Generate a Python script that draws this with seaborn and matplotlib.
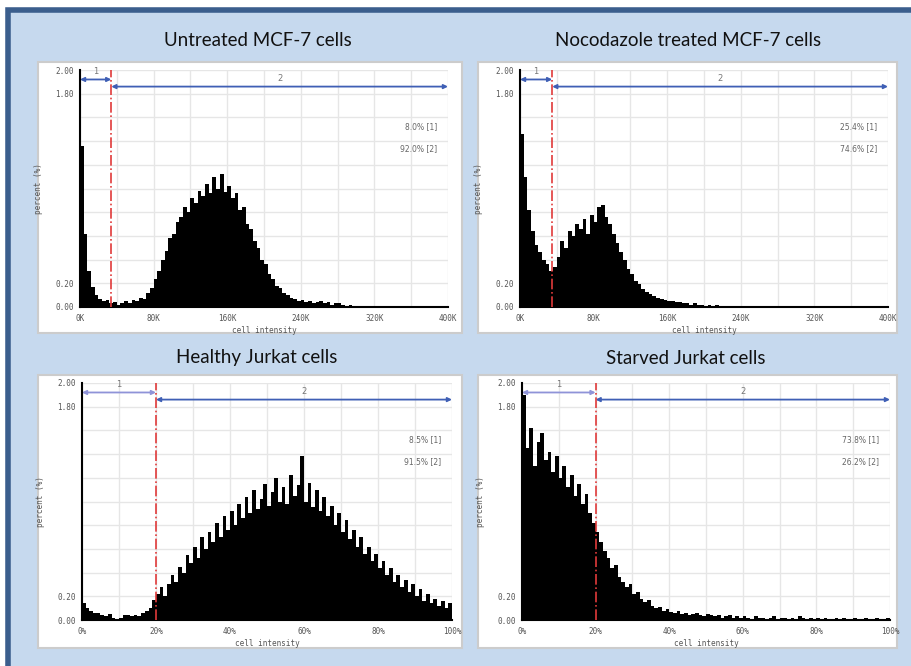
import numpy as np
import pandas as pd
import seaborn as sns
import matplotlib.pyplot as plt
from matplotlib.patches import Rectangle

# bin heights (percent of cells)
# MCF-7: 4K wide bins from 0K to 400K
mcf7_untreated = [1.36, 0.62, 0.30, 0.17, 0.10, 0.07, 0.05, 0.06, 0.03, 0.04,
                  0.02, 0.03, 0.05, 0.03, 0.06, 0.05, 0.08, 0.07, 0.12, 0.16,
                  0.24, 0.30, 0.40, 0.47, 0.58, 0.62, 0.72, 0.76, 0.84, 0.80,
                  0.92, 0.88, 0.98, 0.94, 1.04, 0.96, 1.10, 1.00, 1.12, 0.97,
                  1.02, 0.92, 0.96, 0.82, 0.84, 0.70, 0.66, 0.56, 0.50, 0.40,
                  0.36, 0.28, 0.24, 0.18, 0.16, 0.12, 0.10, 0.08, 0.07, 0.05,
                  0.06, 0.04, 0.05, 0.03, 0.04, 0.05, 0.03, 0.04, 0.02, 0.03,
                  0.03, 0.02, 0.01, 0.02, 0.00, 0.00, 0.01, 0.00, 0.00, 0.00,
                  0.00, 0.01, 0.00, 0.00, 0.00, 0.00, 0.00, 0.00, 0.00, 0.00,
                  0.01, 0.00, 0.00, 0.00, 0.00, 0.00, 0.00, 0.00, 0.00, 0.01]
mcf7_nocodazole = [1.46, 1.10, 0.82, 0.64, 0.52, 0.46, 0.40, 0.36, 0.30, 0.34,
                   0.42, 0.56, 0.50, 0.64, 0.60, 0.70, 0.66, 0.74, 0.62, 0.78,
                   0.72, 0.84, 0.86, 0.76, 0.70, 0.62, 0.54, 0.46, 0.40, 0.32,
                   0.28, 0.22, 0.19, 0.15, 0.13, 0.11, 0.09, 0.08, 0.07, 0.06,
                   0.05, 0.05, 0.04, 0.04, 0.03, 0.03, 0.02, 0.03, 0.02, 0.02,
                   0.01, 0.02, 0.01, 0.02, 0.01, 0.00, 0.01, 0.00, 0.01, 0.00,
                   0.01, 0.00, 0.00, 0.00, 0.00, 0.01, 0.00, 0.00, 0.00, 0.00,
                   0.01, 0.00, 0.01, 0.00, 0.00, 0.01, 0.00, 0.00, 0.01, 0.00,
                   0.00, 0.00, 0.00, 0.00, 0.00, 0.00, 0.00, 0.00, 0.00, 0.00,
                   0.00, 0.00, 0.00, 0.00, 0.00, 0.00, 0.00, 0.00, 0.00, 0.00]
# Jurkat: 1% wide bins from 0% to 100%
jurkat_healthy = [0.14, 0.10, 0.08, 0.06, 0.06, 0.04, 0.03, 0.05, 0.02, 0.01,
                  0.02, 0.04, 0.04, 0.03, 0.04, 0.03, 0.06, 0.08, 0.10, 0.17,
                  0.22, 0.28, 0.20, 0.30, 0.38, 0.32, 0.45, 0.40, 0.55, 0.48,
                  0.62, 0.52, 0.70, 0.60, 0.74, 0.66, 0.82, 0.70, 0.88, 0.76,
                  0.92, 0.80, 0.98, 0.86, 1.04, 0.90, 1.10, 0.94, 1.02, 1.15,
                  0.96, 1.08, 1.20, 1.00, 1.12, 0.98, 1.22, 1.05, 1.14, 1.38,
                  1.00, 1.16, 0.95, 1.10, 0.92, 1.04, 0.88, 0.96, 0.80, 0.90,
                  0.74, 0.84, 0.68, 0.76, 0.62, 0.70, 0.56, 0.62, 0.50, 0.56,
                  0.44, 0.50, 0.38, 0.44, 0.32, 0.38, 0.28, 0.34, 0.24, 0.30,
                  0.20, 0.26, 0.16, 0.22, 0.14, 0.18, 0.12, 0.16, 0.10, 0.14]
jurkat_starved = [1.90, 1.45, 1.62, 1.30, 1.50, 1.58, 1.35, 1.42, 1.25, 1.38,
                  1.20, 1.30, 1.12, 1.22, 1.05, 1.15, 0.98, 1.06, 0.90, 0.82,
                  0.74, 0.66, 0.58, 0.52, 0.44, 0.46, 0.36, 0.32, 0.28, 0.30,
                  0.22, 0.24, 0.18, 0.15, 0.17, 0.12, 0.10, 0.11, 0.08, 0.09,
                  0.07, 0.06, 0.08, 0.05, 0.06, 0.04, 0.05, 0.06, 0.04, 0.03,
                  0.05, 0.04, 0.03, 0.04, 0.02, 0.03, 0.04, 0.02, 0.03, 0.02,
                  0.03, 0.02, 0.01, 0.03, 0.02, 0.02, 0.01, 0.02, 0.03, 0.01,
                  0.02, 0.02, 0.01, 0.02, 0.01, 0.03, 0.02, 0.01, 0.02, 0.01,
                  0.02, 0.01, 0.02, 0.01, 0.01, 0.02, 0.01, 0.02, 0.01, 0.01,
                  0.02, 0.01, 0.01, 0.02, 0.01, 0.01, 0.02, 0.01, 0.01, 0.02]

titles = ["Untreated MCF-7 cells", "Nocodazole treated MCF-7 cells",
          "Healthy Jurkat cells", "Starved Jurkat cells"]
gates = [34, 35, 20, 20]
region1_pct = ["8.0% [1]", "25.4% [1]", "8.5% [1]", "73.8% [1]"]
region2_pct = ["92.0% [2]", "74.6% [2]", "91.5% [2]", "26.2% [2]"]
mcf7_ticklabels = ["0K", "80K", "160K", "240K", "320K", "400K"]
jurkat_ticklabels = ["0%", "20%", "40%", "60%", "80%", "100%"]
y_ticklabels = ["0.00", "0.20", "", "", "", "", "", "", "", "1.80", "2.00"]

sns.set_style("white")
plt.rcParams["font.family"] = ["DejaVu Sans"]

W, H = 912, 666
fig = plt.figure(figsize=(W / 100, H / 100), dpi=100, facecolor="white")

# light blue background with the dark blue frame
fig.add_artist(Rectangle((8 / W, -0.05), 1.1, 1 - 10 / H + 0.05,
                         transform=fig.transFigure, facecolor="#c6d9ee",
                         edgecolor="#3b5e8d", lw=4, zorder=-3))

boxes = [(38, 62, 462, 333), (478, 62, 897, 333),
         (38, 375, 462, 648), (478, 375, 897, 648)]
axes_px = [(80, 70, 448, 307), (520, 70, 888, 307),
           (82, 383, 452, 620), (522, 383, 890, 620)]
title_xy = [(258, 40), (688, 40), (257, 358), (686, 358)]

data = [mcf7_untreated, mcf7_nocodazole, jurkat_healthy, jurkat_starved]

for i in range(4):
    x0, y0, x1, y1 = boxes[i]
    fig.add_artist(Rectangle((x0 / W, 1 - y1 / H), (x1 - x0) / W, (y1 - y0) / H,
                             transform=fig.transFigure, facecolor="white",
                             edgecolor="#cccccc", lw=1.5, zorder=-2))
    fig.text(title_xy[i][0] / W, 1 - title_xy[i][1] / H, titles[i],
             ha="center", va="center", fontsize=13.5, family=["Lato", "DejaVu Sans"],
             color="#111111")

    ax0, ay0, ax1, ay1 = axes_px[i]
    ax = fig.add_axes([ax0 / W, 1 - ay1 / H, (ax1 - ax0) / W, (ay1 - ay0) / H])

    if i < 2:
        xmax, step, tick_labels = 400, 4, mcf7_ticklabels
        minor = 40
    else:
        xmax, step, tick_labels = 100, 1, jurkat_ticklabels
        minor = 10
    centers = np.arange(step / 2, xmax, step)
    df = pd.DataFrame({"intensity": centers, "percent": data[i]})
    sns.histplot(data=df, x="intensity", weights="percent", binwidth=step,
                 binrange=(0, xmax), color="black", alpha=1, linewidth=0,
                 ax=ax, zorder=3)

    ax.set_xlim(0, xmax)
    ax.set_ylim(0, 2.0)
    xt = np.arange(0, xmax + minor, minor)
    ax.set_xticks(xt)
    ax.set_xticklabels([tick_labels[k // 2] if k % 2 == 0 else "" for k in range(len(xt))])
    ax.set_yticks(np.linspace(0, 2.0, 11))
    ax.set_yticklabels(y_ticklabels)
    ax.grid(True, color="#e6e6e6", lw=1)
    ax.set_axisbelow(True)
    for s in ["top", "right"]:
        ax.spines[s].set_visible(False)
    for s in ["left", "bottom"]:
        ax.spines[s].set_color("black")
        ax.spines[s].set_linewidth(1.5)
        ax.spines[s].set_zorder(4)
    ax.tick_params(axis="y", direction="inout", length=5, width=1.2, color="black",
                   labelsize=5.5, labelcolor="#555555", pad=2)
    ax.tick_params(axis="x", direction="out", length=2, width=0.8, color="#888888",
                   labelsize=5.5, labelcolor="#555555", pad=3)
    for lab in ax.get_xticklabels() + ax.get_yticklabels():
        lab.set_family("DejaVu Sans Mono")
    ax.set_xlabel("cell intensity", fontsize=5.5, color="#555555",
                  family="DejaVu Sans Mono", labelpad=2)
    ax.set_ylabel("percent (%)", fontsize=5.5, color="#555555",
                  family="DejaVu Sans Mono")
    ax.yaxis.set_label_coords(-0.1, 0.5)

    g = gates[i]
    ax.axvline(g, color="#e03a3a", ls="-.", lw=1.2, zorder=5)
    c1 = "#3f5fb5" if i < 2 else "#8f93d8"
    ax.annotate("", xy=(g, 1.92), xytext=(0, 1.92),
                arrowprops=dict(arrowstyle="<|-|>", color=c1, lw=1.3,
                                mutation_scale=6, shrinkA=0, shrinkB=0))
    ax.annotate("", xy=(xmax, 1.86), xytext=(g, 1.86),
                arrowprops=dict(arrowstyle="<|-|>", color="#3f5fb5", lw=1.3,
                                mutation_scale=6, shrinkA=0, shrinkB=0))
    ax.text(g / 2, 1.95, "1", fontsize=6, color="#777777", ha="center", va="bottom")
    ax.text((g + xmax) / 2, 1.89, "2", fontsize=6, color="#777777",
            ha="center", va="bottom")
    ax.text(0.97 * xmax, 1.52, region1_pct[i], fontsize=5.5, color="#666666",
            ha="right", va="center")
    ax.text(0.97 * xmax, 1.34, region2_pct[i], fontsize=5.5, color="#666666",
            ha="right", va="center")

plt.savefig("out.png", dpi=100, facecolor=fig.get_facecolor())
